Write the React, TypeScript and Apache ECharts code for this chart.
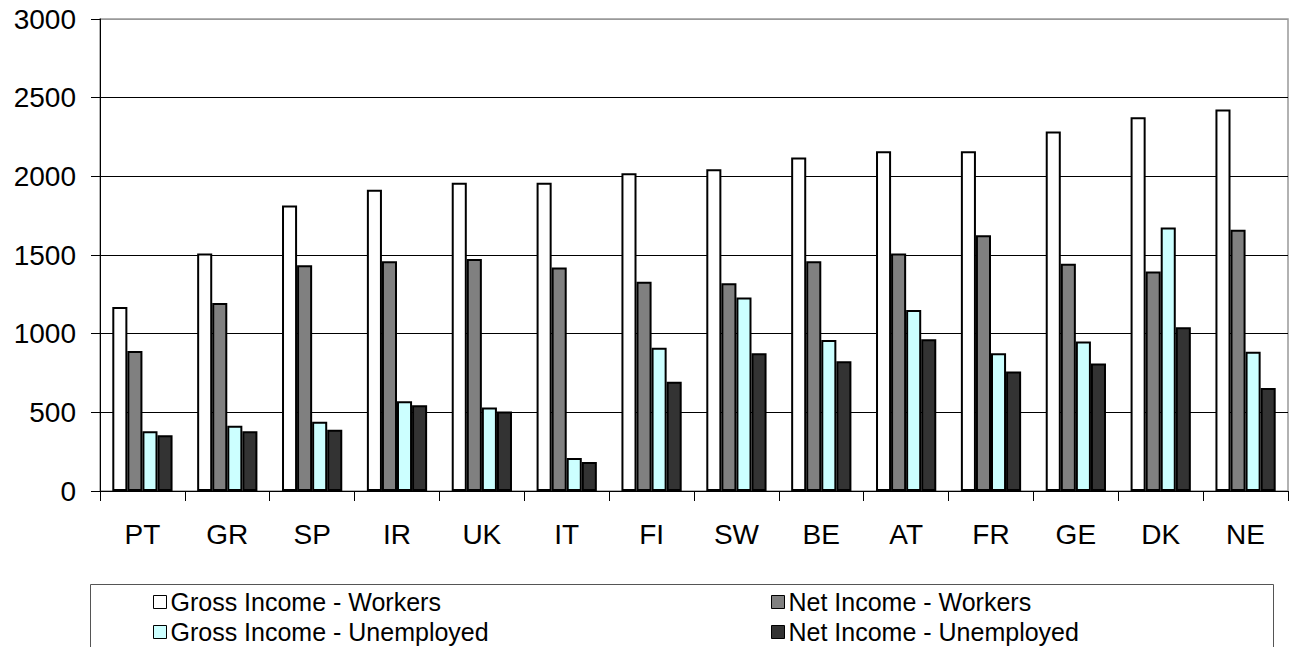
import React, { useEffect, useRef } from "react";
import * as echarts from "echarts";

const categories = ["PT", "GR", "SP", "IR", "UK", "IT", "FI", "SW", "BE", "AT", "FR", "GE", "DK", "NE"];
const grossWorkers = [1170, 1510, 1815, 1915, 1960, 1960, 2020, 2045, 2120, 2160, 2160, 2285, 2375, 2425];
const netWorkers = [890, 1195, 1435, 1460, 1475, 1420, 1330, 1320, 1460, 1510, 1625, 1445, 1395, 1660];
const grossUnemployed = [380, 415, 440, 570, 530, 210, 910, 1230, 960, 1150, 875, 950, 1675, 885];
const netUnemployed = [355, 380, 390, 545, 505, 185, 695, 875, 825, 965, 760, 810, 1040, 655];

const seriesNames = [
  "Gross Income - Workers",
  "Net Income - Workers",
  "Gross Income - Unemployed",
  "Net Income - Unemployed",
];
const seriesColors = ["#FFFFFF", "#808080", "#CCFFFF", "#333333"];
const yTicks = [0, 500, 1000, 1500, 2000, 2500, 3000];

const FONT = "'Liberation Sans', Arial, sans-serif";

export default function App() {
  const ref = useRef<HTMLDivElement>(null);

  useEffect(() => {
    if (!ref.current) return;
    const chart = echarts.init(ref.current, undefined, { renderer: "svg" });
    const seriesData = [grossWorkers, netWorkers, grossUnemployed, netUnemployed];
    const legendText = {
      fontFamily: FONT,
      fontSize: 25,
      color: "#000000",
      lineHeight: 30,
      padding: [0, 0, 0, -1],
    };
    const option = {
      animation: false,
      backgroundColor: "#FFFFFF",
      textStyle: { fontFamily: FONT },
      grid: {
        left: 100,
        right: 3,
        top: 19,
        bottom: 156,
        show: true,
        borderColor: "#999999",
        borderWidth: 1.5,
        backgroundColor: "transparent",
      },
      legend: [
        {
          data: [seriesNames[0], seriesNames[2]],
          orient: "vertical",
          left: 153,
          top: 587,
          itemWidth: 13,
          itemHeight: 13,
          itemGap: 0,
          icon: "rect",
          padding: 0,
          itemStyle: { borderColor: "#000000", borderWidth: 1 },
          textStyle: legendText,
        },
        {
          data: [seriesNames[1], seriesNames[3]],
          orient: "vertical",
          left: 771,
          top: 587,
          itemWidth: 13,
          itemHeight: 13,
          itemGap: 0,
          icon: "rect",
          padding: 0,
          itemStyle: { borderColor: "#000000", borderWidth: 1 },
          textStyle: legendText,
        },
      ],
      graphic: [
        {
          type: "rect",
          shape: { x: 90.5, y: 584.5, width: 1183, height: 80 },
          style: { fill: "none", stroke: "#555555", lineWidth: 1 },
          z: -1,
        },
      ],
      xAxis: {
        type: "category",
        data: categories,
        axisLine: { show: true, lineStyle: { color: "#000000", width: 1 } },
        axisTick: { show: true, alignWithLabel: false, length: 10, lineStyle: { color: "#000000" } },
        axisLabel: { fontFamily: FONT, fontSize: 28, color: "#000000", margin: 29, interval: 0 },
        splitLine: { show: false },
      },
      yAxis: {
        type: "value",
        min: 0,
        max: 3000,
        interval: 500,
        axisLine: { show: true, lineStyle: { color: "#000000", width: 1 } },
        axisTick: { show: true, length: 9, lineStyle: { color: "#000000" } },
        axisLabel: {
          fontFamily: FONT,
          fontSize: 28,
          color: "#000000",
          margin: 24,
          formatter: (v: number) => String(v),
        },
        splitLine: {
          show: true,
          lineStyle: {
            color: yTicks.map((t) => (t === 3000 ? "#999999" : "#000000")),
            width: 1,
          },
        },
      },
      series: seriesNames.map((name, i) => ({
        name,
        type: "bar",
        data: seriesData[i],
        barGap: "0%",
        barCategoryGap: "29%",
        itemStyle: {
          color: seriesColors[i],
          borderColor: "#000000",
          borderWidth: 2,
        },
      })),
    };
    chart.setOption(option);
    return () => {
      chart.dispose();
    };
  }, []);

  return (
    <div
      ref={ref}
      style={{ position: "fixed", left: 0, top: 0, width: 1291, height: 647, background: "#FFFFFF" }}
    />
  );
}
